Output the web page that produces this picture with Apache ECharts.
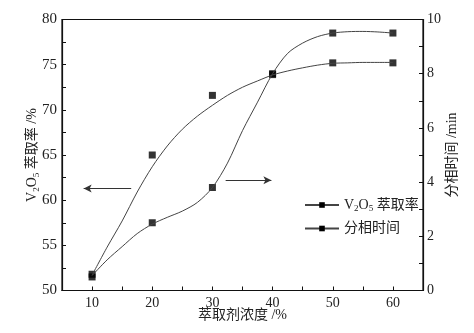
<!DOCTYPE html>
<html>
<head>
<meta charset="utf-8">
<script src="https://cdn.jsdelivr.net/npm/echarts@6/dist/echarts.min.js"></script>
<style>
  html, body { margin: 0; padding: 0; background: #fff; }
  #main { width: 474px; height: 333px; }
</style>
</head>
<body>
<div id="main"></div>
<script>
// 萃取剂浓度 /%
var conc = [10, 20, 30, 40, 50, 60];
// 实测点
var rateData = [51.8, 65.0, 71.6, 73.9, 75.2, 75.2];
var timeData = [0.5, 2.5, 3.8, 8.0, 9.5, 9.5];
// 曲线
var curveX = [10, 12.5, 15, 17.5, 20, 22.5, 25, 27.5, 30, 32.5, 35, 37.5, 40, 42.5, 45, 47.5, 50, 52.5, 55, 57.5, 60];
var rateCurve = [51.7, 54.8, 57.7, 60.9, 63.7, 66.0, 67.85, 69.3, 70.5, 71.6, 72.5, 73.2, 73.86, 74.3, 74.65, 74.95, 75.15, 75.2, 75.25, 75.25, 75.25];
var timeCurve = [0.55, 1.13, 1.62, 2.1, 2.45, 2.7, 2.93, 3.25, 3.8, 4.7, 5.9, 6.95, 8.0, 8.75, 9.13, 9.37, 9.5, 9.55, 9.56, 9.54, 9.5];
// 箭头 [起点, 终点]
var arrowLeft = [[16.5, 61.3], [8.6, 61.3]];
var arrowRight = [[32.2, 4.07], [39.8, 4.07]];
var names = ['V2O5 萃取率', '分相时间'];

var font = '"Liberation Serif", "Times New Roman", "Noto Sans CJK SC", serif';
var txt = '#222';

function pairs(xs, ys) {
  return xs.map(function (x, i) { return [x, ys[i]]; });
}

var myChart = echarts.init(document.getElementById('main'));

var option = {
  animation: false,
  backgroundColor: '#fff',
  textStyle: { fontFamily: font },
  grid: {
    left: 62, right: 51, top: 19.5, bottom: 42.5,
    show: true, borderColor: '#111', borderWidth: 1.2
  },
  legend: {
    data: names,
    orient: 'vertical',
    left: 299,
    top: 193,
    itemGap: 8,
    itemWidth: 34,
    itemHeight: 7,
    textStyle: {
      fontFamily: font, fontSize: 14, color: txt,
      rich: {
        n: { fontFamily: font, fontSize: 14, color: txt },
        s: { fontFamily: font, fontSize: 9, color: txt, padding: [8, 0, 0, 0] }
      }
    },
    formatter: function (n) {
      if (n === names[0]) return '{n|V}{s|2}{n|O}{s|5}{n| 萃取率}';
      return '{n|' + n + '}';
    }
  },
  xAxis: {
    type: 'value',
    min: 5, max: 65, interval: 5,
    name: '萃取剂浓度 /%',
    nameLocation: 'middle',
    nameMoveOverlap: false,
    nameGap: 18,
    nameTextStyle: { fontFamily: font, fontSize: 14, color: txt, verticalAlign: 'top' },
    axisLine: { lineStyle: { color: '#111', width: 1.2 } },
    axisTick: { inside: true, length: 4, lineStyle: { color: '#111' } },
    axisLabel: {
      fontFamily: font, fontSize: 14, color: txt, margin: 6,
      formatter: function (v) { return v % 10 === 0 ? v : ''; }
    },
    splitLine: { show: false }
  },
  yAxis: [
    {
      type: 'value',
      min: 50, max: 80, interval: 5,
      name: '{n|V}{s|2}{n|O}{s|5}{n| 萃取率 /%}',
      nameLocation: 'middle',
      nameMoveOverlap: false,
      nameRotate: 90,
      nameGap: 21,
      nameTextStyle: {
        rich: {
          n: { fontFamily: font, fontSize: 14, color: txt },
          s: { fontFamily: font, fontSize: 9, color: txt, padding: [8, 0, 0, 0] }
        }
      },
      axisLine: { show: true, lineStyle: { color: '#111', width: 1.2 } },
      axisTick: { inside: true, length: 4, lineStyle: { color: '#111' } },
      minorTick: { show: true, splitNumber: 2, length: 4, lineStyle: { color: '#111' } },
      axisLabel: { fontFamily: font, fontSize: 15, color: txt, margin: 5 },
      splitLine: { show: false }
    },
    {
      type: 'value',
      min: 0, max: 10, interval: 2,
      position: 'right',
      name: '分相时间 /min',
      nameLocation: 'middle',
      nameMoveOverlap: false,
      nameRotate: 90,
      nameGap: 22,
      nameTextStyle: { fontFamily: font, fontSize: 14, color: txt },
      axisLine: { show: true, lineStyle: { color: '#111', width: 1.2 } },
      axisTick: { inside: true, length: 4, lineStyle: { color: '#111' } },
      minorTick: { show: true, splitNumber: 2, length: 4, lineStyle: { color: '#111' } },
      axisLabel: { fontFamily: font, fontSize: 14, color: txt, margin: 4 },
      splitLine: { show: false }
    }
  ],
  series: [
    {
      name: names[0],
      type: 'line',
      yAxisIndex: 0,
      data: pairs(curveX, rateCurve),
      smooth: 0.3,
      symbol: 'rect',
      symbolSize: 6,
      showSymbol: false,
      itemStyle: { color: '#000' },
      lineStyle: { color: '#444', width: 1 },
      markLine: {
        silent: true,
        symbol: ['none', 'arrow'],
        symbolSize: [6, 8],
        label: { show: false },
        lineStyle: { color: '#333', width: 1, type: 'solid' },
        data: [[{ coord: arrowLeft[0] }, { coord: arrowLeft[1] }]]
      }
    },
    {
      name: names[1],
      type: 'line',
      yAxisIndex: 1,
      data: pairs(curveX, timeCurve),
      smooth: 0.3,
      symbol: 'rect',
      symbolSize: 6,
      showSymbol: false,
      itemStyle: { color: '#000' },
      lineStyle: { color: '#444', width: 1 },
      markLine: {
        silent: true,
        symbol: ['none', 'arrow'],
        symbolSize: [6, 8],
        label: { show: false },
        lineStyle: { color: '#333', width: 1, type: 'solid' },
        data: [[{ coord: arrowRight[0] }, { coord: arrowRight[1] }]]
      }
    },
    {
      name: 'rate-pts',
      type: 'scatter',
      yAxisIndex: 0,
      data: pairs(conc, rateData),
      symbol: 'rect',
      symbolSize: 7,
      itemStyle: { color: '#000' }
    },
    {
      name: 'time-pts',
      type: 'scatter',
      yAxisIndex: 1,
      data: pairs(conc, timeData),
      symbol: 'rect',
      symbolSize: 7,
      itemStyle: { color: '#000' }
    }
  ]
};

myChart.setOption(option);
</script>
</body>
</html>
